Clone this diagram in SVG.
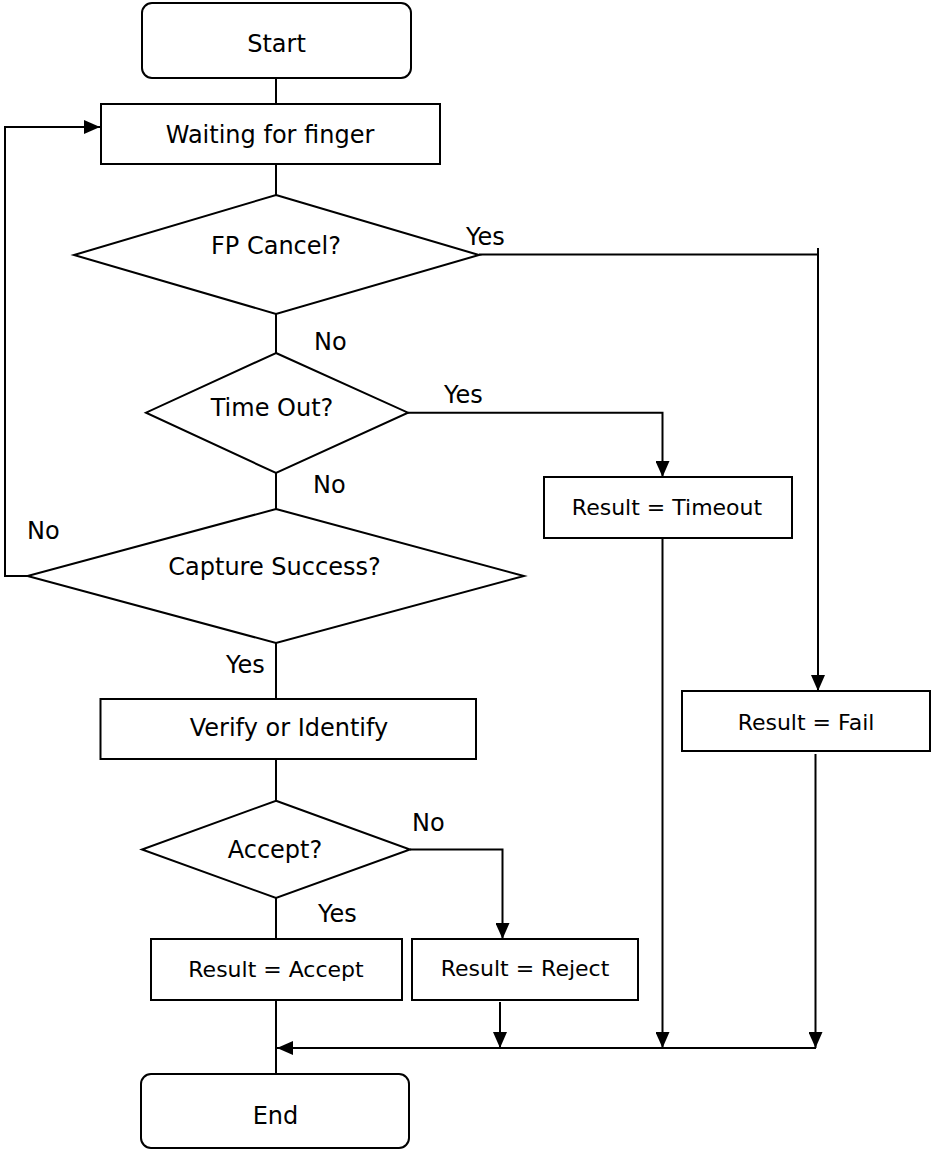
<svg xmlns="http://www.w3.org/2000/svg" width="932" height="1150" viewBox="0 0 932 1150">
<style>
.n{fill:#fff;stroke:#000;stroke-width:2}
.c{fill:none;stroke:#000;stroke-width:2}
.t{font-family:"DejaVu Sans",sans-serif;font-size:24px;fill:#000;text-anchor:middle}
.r{font-family:"DejaVu Sans",sans-serif;font-size:22px;fill:#000;text-anchor:middle}
.l{font-family:"DejaVu Sans",sans-serif;font-size:24px;fill:#000}
</style>
<defs>
<marker id="a" markerUnits="userSpaceOnUse" markerWidth="16" markerHeight="14" refX="16" refY="7" orient="auto">
<path d="M0,0 L16,7 L0,14 z" fill="#000"/>
</marker>
</defs>
<rect width="932" height="1150" fill="#fff"/>
<g id="connectors">
<path class="c" d="M276,78 V104"/>
<path class="c" d="M276,164 V195"/>
<path class="c" d="M276,314 V353"/>
<path class="c" d="M276,473 V509"/>
<path class="c" d="M276,643 V699"/>
<path class="c" d="M276,759 V801"/>
<path class="c" d="M276,898 V939"/>
<path class="c" d="M276,1000 V1074"/>
<path class="c" d="M27,576 H4 M5,577 V127 H100" marker-end="url(#a)"/>
<path class="c" d="M479,254.5 H818"/>
<path class="c" d="M818,248 V691" marker-end="url(#a)"/>
<path class="c" d="M408,412.7 H662.5 V477" marker-end="url(#a)"/>
<path class="c" d="M662.5,533 V1048" marker-end="url(#a)"/>
<path class="c" d="M815.5,754 V1048" marker-end="url(#a)"/>
<path class="c" d="M500,1002 V1048" marker-end="url(#a)"/>
<path class="c" d="M410,849.5 H502.5 V939" marker-end="url(#a)"/>
<path class="c" d="M816,1048 H277" marker-end="url(#a)"/>
<text class="l" x="466" y="245">Yes</text>
<text class="l" x="314" y="350">No</text>
<text class="l" x="444" y="403">Yes</text>
<text class="l" x="313" y="493">No</text>
<text class="l" x="27" y="539">No</text>
<text class="l" x="226" y="673">Yes</text>
<text class="l" x="412" y="831">No</text>
<text class="l" x="318" y="922">Yes</text>
</g>
<g id="start"><rect class="n" x="142" y="3" width="269" height="75" rx="10"/><text class="t" x="276.5" y="52">Start</text></g>
<g id="waiting"><rect class="n" x="101" y="104" width="339" height="60"/><text class="t" x="270" y="143">Waiting for finger</text></g>
<g id="fpcancel"><polygon class="n" points="276,195 479,255 276,314 74,255"/><text class="t" x="276" y="254">FP Cancel?</text></g>
<g id="timeout"><polygon class="n" points="276,353 408,412.7 276,473 146,412.7"/><text class="t" x="272" y="416">Time Out?</text></g>
<g id="capture"><polygon class="n" points="276,509 524,576 276,643 27.5,576"/><text class="t" x="274.5" y="575">Capture Success?</text></g>
<g id="verify"><rect class="n" x="100.5" y="699" width="375.5" height="60"/><text class="t" x="289" y="736">Verify or Identify</text></g>
<g id="accept"><polygon class="n" points="276,800.7 410,849.5 276,898 142,849.5"/><text class="t" x="275" y="858">Accept?</text></g>
<g id="resTimeout"><rect class="n" x="544" y="477" width="248" height="61"/><text class="r" x="667" y="515">Result = Timeout</text></g>
<g id="resFail"><rect class="n" x="682" y="691" width="248" height="60"/><text class="r" x="806" y="730">Result = Fail</text></g>
<g id="resAccept"><rect class="n" x="151" y="939" width="251" height="61"/><text class="r" x="276" y="977">Result = Accept</text></g>
<g id="resReject"><rect class="n" x="412" y="939" width="226" height="61"/><text class="r" x="525" y="976">Result = Reject</text></g>
<g id="end"><rect class="n" x="141" y="1074" width="268" height="74" rx="10"/><text class="t" x="275.5" y="1124">End</text></g>
</svg>
